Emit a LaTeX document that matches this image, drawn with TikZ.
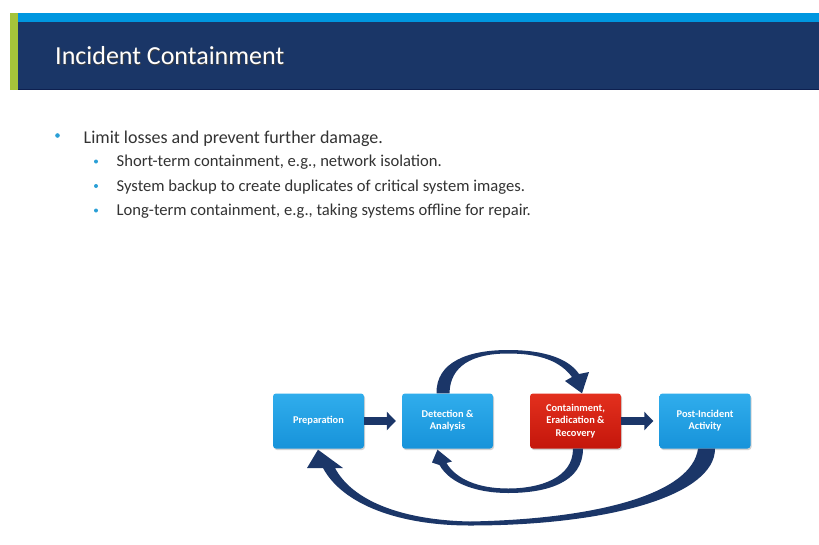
\documentclass[tikz,border=0pt]{standalone}
\usepackage{fontspec}
\setmainfont{Carlito}
\usetikzlibrary{arrows.meta,shadows,calc}

\definecolor{hdrnavy}{HTML}{1A3667}
\definecolor{hdrline}{HTML}{0E2050}
\definecolor{hdrsky}{HTML}{0097E0}
\definecolor{hdrgreen}{HTML}{A5C43A}
\definecolor{bodytext}{HTML}{333333}
\definecolor{bulletblue}{HTML}{2A9FD6}
\definecolor{flownavy}{HTML}{1B3668}
\definecolor{boxblueA}{HTML}{30ADEC}
\definecolor{boxblueB}{HTML}{1793DA}
\definecolor{boxredA}{HTML}{E3301E}
\definecolor{boxredB}{HTML}{C4160B}

\tikzset{
  stagebox/.style={rounded corners=3pt, minimum width=91pt, minimum height=55pt,
    align=center, text=white, font=\fontsize{10.4}{12.2}\selectfont\bfseries,
    top color=boxblueA, bottom color=boxblueB,
    drop shadow={shadow xshift=1pt, shadow yshift=-1.5pt, opacity=0.35}},
  activebox/.style={stagebox, top color=boxredA, bottom color=boxredB},
  blockarrow/.style={draw=flownavy, line width=8pt,
    -{Triangle[width=18pt,length=9pt]}, shorten >=6pt},
  curvefill/.style={fill=flownavy},
  mainitem/.style={anchor=base west, inner sep=0pt, text=bodytext, font=\fontsize{18}{21}\selectfont},
  subitem/.style={anchor=base west, inner sep=0pt, text=bodytext, font=\fontsize{16.6}{19}\selectfont},
}

\begin{document}
\begin{tikzpicture}[x=1pt,y=-1pt]
\useasboundingbox (0,0) rectangle (819,544);
\fill[white] (0,0) rectangle (819,544);

% header band
\fill[hdrsky] (18,13) rectangle (819,22);
\fill[hdrnavy] (18,22) rectangle (819,90);
\fill[hdrline] (18,88.5) rectangle (819,90);
\fill[hdrgreen] (10,13) rectangle (18,90);
\node[anchor=base west, inner sep=0pt, text=black!75, font=\fontsize{26}{30}\selectfont] at (55.8,65.1) {Incident Containment};
\node (title) [anchor=base west, inner sep=0pt, text=white, font=\fontsize{26}{30}\selectfont] at (55,64.3) {Incident Containment};

% bullet list
\fill[bulletblue] (57.5,135.5) circle (2.3);
\node (b1) [mainitem] at (83.5,143.3) {Limit losses and prevent further damage.};
\foreach \yy/\txt [count=\i] in {161.5/{Short-term containment, e.g., network isolation.},
                      186/{System backup to create duplicates of critical system images.},
                      210.5/{Long-term containment, e.g., taking systems offline for repair.}} {
  \fill[bulletblue] (96,\yy) circle (2);
  \node (s\i) [subitem] at (116.5,\yy+5.2) {\txt};
}

% process stages
\node (prep) [stagebox] at (318.5,421) {Preparation};
\node (det)  [stagebox] at (447.5,421) {Detection \&\\Analysis};
\node (cont) [activebox] at (575.5,421) {Containment,\\Eradication \&\\Recovery};
\node (post) [stagebox] at (705,421) {Post-Incident\\Activity};

% straight flow arrows
\draw[blockarrow] (prep) -- (det);
\draw[blockarrow] (cont) -- (post);

% detection -> containment (over the top)
\fill[curvefill] ([xshift=-11pt]det.north)
  .. controls (436,362) and (468,350) .. (508,350)
  .. controls (545,350) and (569,359) .. (579,374)
  -- (589,372) -- ([xshift=6.5pt]cont.north) -- (565,381) -- (572,377)
  .. controls (560,361) and (540,353.5) .. (508,353.5)
  .. controls (472,353.5) and (450,366) .. ([xshift=2pt]det.north) -- cycle;

% containment -> detection (underneath)
\fill[curvefill] ([xshift=-2.5pt]cont.south)
  .. controls (573,478) and (540,488.5) .. (508,488.5)
  .. controls (478,488.5) and (456,479) .. (446.5,463)
  -- (452,461.5) -- ([xshift=-10pt,yshift=-1pt]det.south) -- (432,462.5) -- (439.5,465)
  .. controls (450,484) and (478,493) .. (508,493)
  .. controls (548,493) and (583,482) .. ([xshift=7.5pt]cont.south) -- cycle;

% post-incident -> preparation (long return loop)
\fill[curvefill] ([xshift=-7pt]post.south)
  .. controls (692,493) and (600,519) .. (470,521.5)
  .. controls (400,520) and (352,500) .. (335,468)
  -- (343,468) -- ([xshift=-0.5pt,yshift=-1pt]prep.south) -- (307,468) -- (323,468)
  .. controls (343,505) and (400,525.5) .. (470,525.5)
  .. controls (610,525.5) and (715,495) .. ([xshift=10pt]post.south) -- cycle;
\end{tikzpicture}
\end{document}
